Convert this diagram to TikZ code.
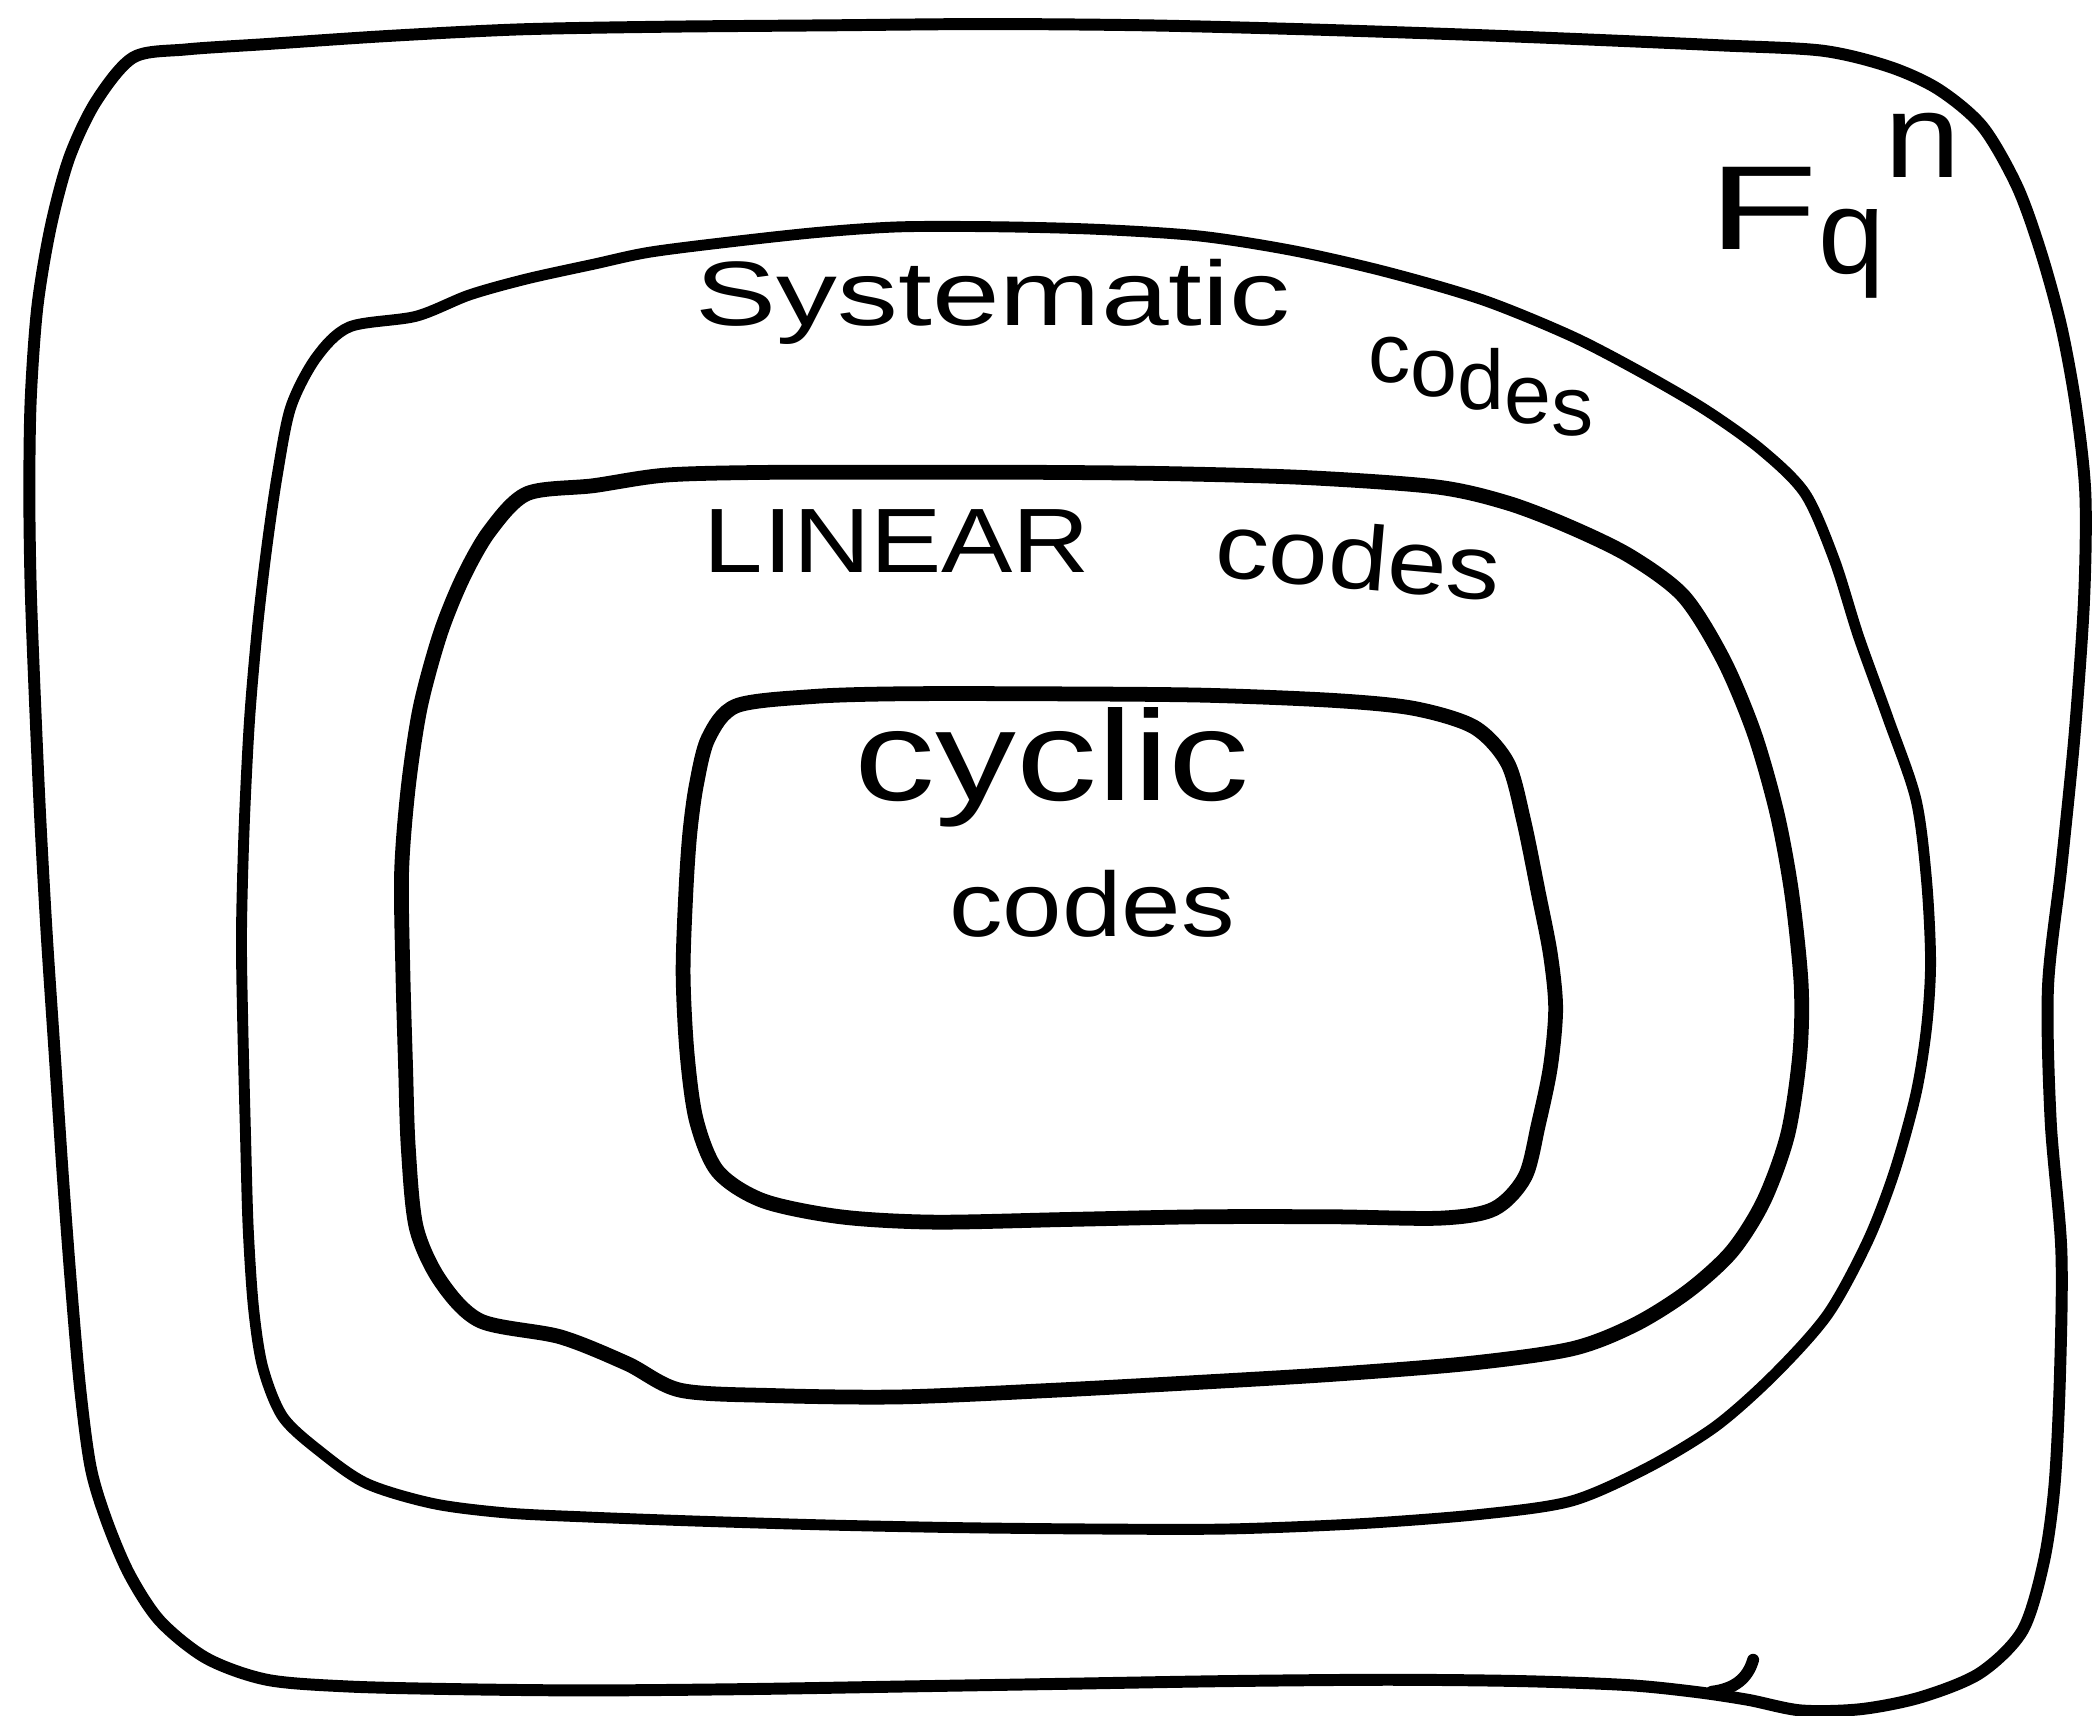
\documentclass[tikz,border=0pt]{standalone}
\usepackage{fontspec}
\usepackage{graphicx}
\setmainfont{Liberation Sans}
\begin{document}
\begin{tikzpicture}[x=0.01334cm,y=-0.01334cm,
  outerline/.style={line width=3.4pt,line join=round,line cap=round},
  sysline/.style={line width=3.1pt,line join=round},
  boldline/.style={line width=4.2pt,line join=round},
  lbl/.style={inner sep=0pt,anchor=base west}]
\useasboundingbox (0,0) rectangle (1568,1286);
% outer: F_q^n
\draw[outerline] plot[smooth cycle,tension=0.5] coordinates {
 (100,43) (140,37) (200,33) (290,27) (390,22) (500,20) (620,19) (740,18)
 (860,19) (980,22) (1100,26) (1200,30) (1290,34) (1366,38) (1416,50) (1453,67)
 (1486,95) (1512,140) (1530,190) (1545,245) (1556,305) (1563,370) (1562,450)
 (1555,550) (1545,650) (1535,740) (1537,840) (1545,937) (1544,1030) (1540,1112)
 (1532,1170) (1516,1222) (1484,1254) (1440,1272) (1395,1281) (1350,1282)
 (1310,1274) (1270,1268) (1220,1263) (1140,1260) (1040,1259) (920,1260)
 (800,1262) (680,1264) (560,1266) (440,1267) (340,1266) (260,1264) (200,1259)
 (155,1243) (120,1215) (97,1180) (80,1140) (68,1100) (60,1040) (53,960)
 (47,880) (41,790) (35,700) (30,610) (26,520) (23,440) (22,370) (23,300)
 (28,230) (38,170) (52,118) (72,76)};
\coordinate (hookA) at (1283,1268);
\coordinate (hookB) at (1314,1244);
\draw[outerline] (hookA) .. controls (1300,1266) and (1310,1258) .. (hookB);
% systematic codes
\draw[sysline] plot[smooth cycle,tension=0.5] coordinates {
 (262,245) (312,237) (352,221) (395,209) (445,198) (487,189) (550,181)
 (615,174) (675,170) (750,170) (825,172) (900,177) (970,188) (1040,204)
 (1112,225) (1178,252) (1230,279) (1278,307) (1320,337) (1353,370) (1375,420)
 (1393,477) (1415,538) (1436,599) (1444,660) (1447,721) (1444,770) (1436,820)
 (1420,878) (1400,930) (1370,985) (1330,1030) (1286,1069) (1235,1100)
 (1178,1125) (1110,1135) (1020,1142) (920,1146) (820,1146) (720,1145)
 (620,1143) (520,1140) (440,1137) (380,1134) (325,1127) (275,1112) (240,1088)
 (212,1062) (197,1025) (190,980) (186,920) (184,850) (182,770) (181,700)
 (183,620) (187,540) (193,470) (200,410) (208,355) (218,305) (237,268)};
% linear codes
\draw[boldline] plot[smooth cycle,tension=0.5] coordinates {
 (395,370) (445,364) (500,356) (580,354) (675,354) (775,354) (877,355)
 (980,358) (1077,365) (1130,377) (1177,395) (1222,417) (1262,447) (1292,495)
 (1315,550) (1332,610) (1343,670) (1350,738) (1349,790) (1340,850) (1322,900)
 (1298,938) (1265,968) (1225,993) (1178,1011) (1100,1022) (1000,1030)
 (900,1036) (790,1042) (675,1047) (580,1046) (510,1042) (470,1022) (420,1002)
 (360,990) (330,960) (312,920) (306,860) (304,800) (302,730) (301,654)
 (306,590) (315,530) (330,475) (347,433) (367,398)};
% cyclic codes
\draw[boldline] plot[smooth cycle,tension=0.5] coordinates {
 (552,529) (610,522) (675,520) (780,520) (900,521) (1000,525) (1060,531)
 (1105,545) (1130,572) (1142,615) (1153,669) (1162,715) (1166,756) (1162,800)
 (1153,843) (1143,882) (1120,906) (1080,913) (1000,912) (900,912) (800,914)
 (700,916) (630,912) (572,900) (538,878) (522,840) (515,790) (512,730)
 (514,670) (517,625) (522,588) (531,553)};
% labels
\node[lbl] (sys) at (521,244)
  {\fontsize{26}{30}\selectfont\scalebox{1.33}[1]{Systematic}};
\node[lbl] (sysc) at (1025,287)
  {\fontsize{24}{28}\selectfont c\raisebox{-3.8pt}{o}\raisebox{-7.6pt}{d}\raisebox{-11.5pt}{e}\raisebox{-15pt}{s}};
\node[lbl] (lin) at (527,429)
  {\fontsize{26}{30}\selectfont\scalebox{1.17}[1]{LINEAR}};
\node[lbl,rotate=-5] (linc) at (909,432)
  {\fontsize{26}{30}\selectfont\scalebox{1.17}[1]{codes}};
\node[lbl] (cyc) at (640,600)
  {\fontsize{36.5}{40}\selectfont\scalebox{1.26}[1]{cyclic}};
\node[lbl] (cycc) at (711,702)
  {\fontsize{26}{30}\selectfont\scalebox{1.17}[1]{codes}};
\node[lbl] (fq) at (1280,187)
  {\fontsize{34}{38}\selectfont\scalebox{1.5}[1]{F}\raisebox{-0.2em}{q}\raisebox{0.6em}{\scalebox{1.15}[1]{n}}};
\end{tikzpicture}
\end{document}
